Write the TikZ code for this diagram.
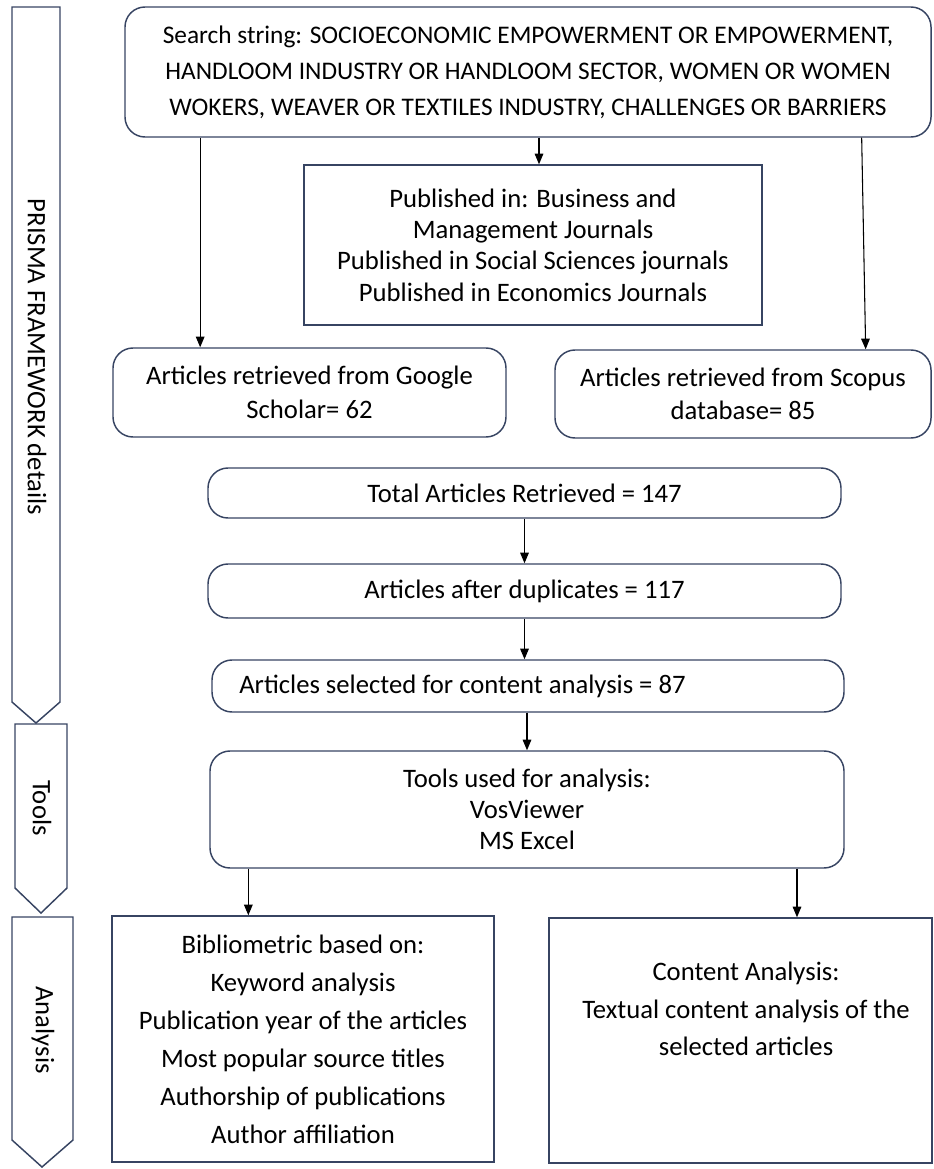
\documentclass[tikz,border=0pt]{standalone}
\usepackage{fontspec}
\setmainfont{Carlito}
\usetikzlibrary{arrows.meta}
\definecolor{edge}{RGB}{55,68,98}
\begin{document}
\begin{tikzpicture}[x=0.75pt,y=-0.75pt,
  base/.style={draw=edge, line width=1.1pt, inner sep=0pt, align=center},
  rbox/.style={base, rounded corners=15pt},
  sbox/.style={base},
  sz/.style 2 args={minimum width=#1*0.75pt, minimum height=#2*0.75pt},
  lbl/.style={font=\fontsize{20pt}{#1}\selectfont, align=center, inner sep=0pt},
  lbl/.default=30pt,
  pent/.style={draw=edge, line width=1.1pt},
  ptext/.style={font=\fontsize{20pt}{24pt}\selectfont, rotate=-90, inner sep=0pt},
  arr/.style={-{Triangle[length=8pt,width=6.5pt]}, line width=0.8pt, black}]
\useasboundingbox (0,0) rectangle (933,1169);

% side pentagons
\draw[pent] (12,7) -- (60,7) -- (60,702) -- (36,723) -- (12,702) -- cycle;
\node[ptext] (prisma) at (37,357) {PRISMA FRAMEWORK details};
\draw[pent] (15,724) -- (67,724) -- (67,888) -- (41,913) -- (15,888) -- cycle;
\node[ptext] (toolslbl) at (42,808) {Tools};
\draw[pent] (12,917) -- (73,917) -- (73,1140) -- (42,1167) -- (12,1140) -- cycle;
\node[ptext] (analysislbl) at (43,1030) {Analysis};

% boxes
\node[rbox, sz={806}{130}, font=\fontsize{19pt}{27pt}\selectfont] (search) at (528,72)
  {Search string: SOCIOECONOMIC EMPOWERMENT OR EMPOWERMENT,\\
   HANDLOOM INDUSTRY OR HANDLOOM SECTOR, WOMEN OR WOMEN\\
   WOKERS, WEAVER OR TEXTILES INDUSTRY, CHALLENGES OR BARRIERS};
\node[sbox, sz={458}{160}, font=\fontsize{20pt}{23.5pt}\selectfont] (pub) at (533,245)
  {Published in: Business and\\ Management Journals\\ Published in Social Sciences journals\\ Published in Economics Journals};
\node[rbox, sz={393}{89}, font=\fontsize{20pt}{25pt}\selectfont] (google) at (309.5,392.5)
  {Articles retrieved from Google\\ Scholar= 62};
\node[rbox, sz={376}{88}, font=\fontsize{20pt}{25pt}\selectfont] (scopus) at (743,394)
  {Articles retrieved from Scopus\\ database= 85};
\node[rbox, sz={633}{50}, font=\fontsize{20pt}{24pt}\selectfont] (total) at (524.5,493)
  {Total Articles Retrieved = 147};
\node[rbox, sz={633}{54}, font=\fontsize{20pt}{24pt}\selectfont] (after) at (524.5,591)
  {Articles after duplicates = 117};
\node[rbox, sz={632}{52}] (selected) at (528,686) {};
\node[lbl, anchor=west] (seltext) at (239,686) {Articles selected for content analysis = 87};
\node[rbox, sz={634}{117}, font=\fontsize{20pt}{23.3pt}\selectfont] (tools) at (527,809.5)
  {Tools used for analysis:\\ VosViewer\\ MS Excel};
\node[sbox, sz={382}{246}, font=\fontsize{20pt}{28.5pt}\selectfont] (biblio) at (303,1039)
  {Bibliometric based on:\\ Keyword analysis\\ Publication year of the articles\\ Most popular source titles\\ Authorship of publications\\ Author affiliation};
\node[sbox, sz={383}{245}] (content) at (740.5,1040.5) {};
\node[lbl=28pt] (contenttext) at (746,1009)
  {Content Analysis:\\ Textual content analysis of the\\ selected articles};

% connectors
\draw[arr] ([xshift=-82pt]google.north |- search.south) -- ([xshift=-82pt]google.north);
\draw[arr] ([xshift=4.5pt]pub.north |- search.south) -- ([xshift=4.5pt]pub.north);
\draw[arr] ([xshift=89pt]scopus.north |- search.south) -- ([xshift=92pt]scopus.north);
\draw[arr] (total.south) -- (after.north);
\draw[arr] (after.south) -- (after.south |- selected.north);
\draw[arr] (selected.south -| tools.north) -- (tools.north);
\draw[arr] ([xshift=-209pt]tools.south) -- ([xshift=-209pt]tools.south |- biblio.north);
\draw[arr] ([xshift=202.5pt]tools.south) -- ([xshift=202.5pt]tools.south |- content.north);
\end{tikzpicture}
\end{document}
